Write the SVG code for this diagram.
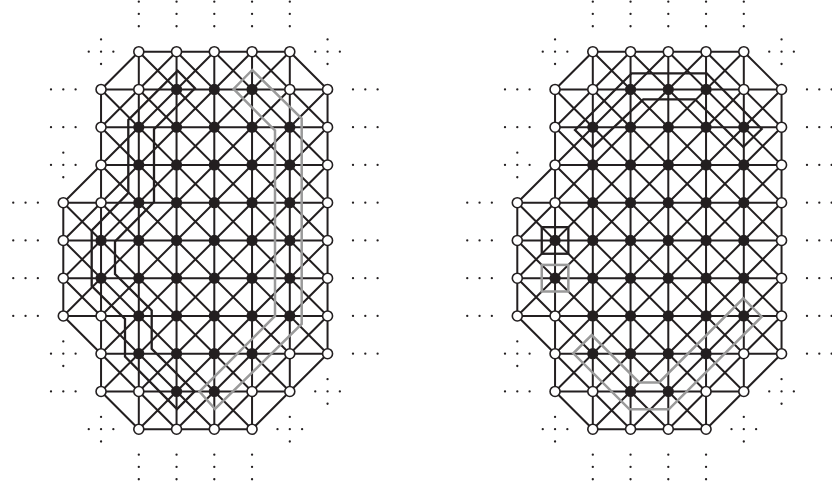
<svg xmlns="http://www.w3.org/2000/svg" xmlns:xlink="http://www.w3.org/1999/xlink" width="832" height="490" viewBox="0 0 832 490">
<style>
.e{fill:none;stroke:#231f20;stroke-width:2}
.o{fill:#fff;stroke:#231f20;stroke-width:1.6}
.f{fill:#231f20}
.hk{fill:none;stroke:#231f20;stroke-width:2.3}
.hg{fill:none;stroke:#9a9a9a;stroke-width:2.5}
.dots{fill:#231f20}
</style>
<defs>
<path id="lattice" d="M75.5 0H226.5M37.75 37.75H264.25M37.75 75.5H264.25M37.75 113.25H264.25M0 151H264.25M0 188.75H264.25M0 226.5H264.25M0 264.25H264.25M37.75 302H264.25M37.75 339.75H226.5M75.5 377.5H188.75M0 151V264.25M37.75 37.75V339.75M75.5 0V377.5M113.25 0V377.5M151 0V377.5M188.75 0V377.5M226.5 0V339.75M264.25 37.75V302M226.5 0L264.25 37.75M188.75 0L264.25 75.5M151 0L264.25 113.25M113.25 0L264.25 151M75.5 0L264.25 188.75M75.5 37.75L264.25 226.5M37.75 37.75L264.25 264.25M37.75 75.5L264.25 302M37.75 113.25L226.5 302M37.75 151L226.5 339.75M0 151L188.75 339.75M0 188.75L188.75 377.5M0 226.5L151 377.5M0 264.25L113.25 377.5M37.75 339.75L75.5 377.5M75.5 0L37.75 37.75M113.25 0L37.75 75.5M151 0L0 151M188.75 0L0 188.75M226.5 0L0 226.5M226.5 37.75L0 264.25M264.25 37.75L37.75 264.25M264.25 75.5L37.75 302M264.25 113.25L37.75 339.75M264.25 151L75.5 339.75M264.25 188.75L75.5 377.5M264.25 226.5L113.25 377.5M264.25 264.25L151 377.5M264.25 302L188.75 377.5"/>
<g id="vt"><circle cy="-12.3" r="1.15"/><circle r="1.15"/><circle cy="12.3" r="1.15"/></g>
<g id="hz"><circle cx="-12.3" r="1.15"/><circle r="1.15"/><circle cx="12.3" r="1.15"/></g>
<g id="pl"><circle cy="-12.3" r="1.15"/><circle cx="-12.3" r="1.15"/><circle r="1.15"/><circle cx="12.3" r="1.15"/><circle cy="12.3" r="1.15"/></g>
<g id="dotset">
<use href="#vt" x="75.5" y="-37.75"/><use href="#vt" x="113.25" y="-37.75"/><use href="#vt" x="151" y="-37.75"/><use href="#vt" x="188.75" y="-37.75"/><use href="#vt" x="226.5" y="-37.75"/>
<use href="#vt" x="75.5" y="415.25"/><use href="#vt" x="113.25" y="415.25"/><use href="#vt" x="151" y="415.25"/><use href="#vt" x="188.75" y="415.25"/>
<use href="#pl" x="37.75" y="0"/><use href="#pl" x="264.25" y="0"/><use href="#pl" x="0" y="113.25"/><use href="#pl" x="0" y="302"/><use href="#pl" x="37.75" y="377.5"/><use href="#pl" x="226.5" y="377.5"/><use href="#pl" x="264.25" y="339.75"/>
<use href="#hz" x="0" y="37.75"/><use href="#hz" x="0" y="75.5"/><use href="#hz" x="0" y="339.75"/>
<use href="#hz" x="-37.75" y="151"/><use href="#hz" x="-37.75" y="188.75"/><use href="#hz" x="-37.75" y="226.5"/><use href="#hz" x="-37.75" y="264.25"/>
<use href="#hz" x="302" y="37.75"/><use href="#hz" x="302" y="75.5"/><use href="#hz" x="302" y="113.25"/><use href="#hz" x="302" y="151"/><use href="#hz" x="302" y="188.75"/><use href="#hz" x="302" y="226.5"/><use href="#hz" x="302" y="264.25"/><use href="#hz" x="302" y="302"/>
</g>
</defs>
<rect width="832" height="490" fill="#fff"/>
<g id="connectors">
<g transform="translate(63.3 51.7)"><use href="#lattice" class="e"/></g>
<g transform="translate(517.3 51.7)"><use href="#lattice" class="e"/></g>
</g>
<g id="overlays">
<polygon id="a-black-band" class="hk" points="177.7,70.7 195,88.3 154,129.3 154,202 115,241.5 115,274 151.7,310.5 151.7,348.7 194.5,391.5 177,409 125,356.5 125,319 91.7,286 91.7,230.5 128.3,193 128.3,120"/>
<polygon id="a-gray-band" class="hg" points="252.2,70 233.6,89 275,130.4 275,316 199.5,391.5 215,409 301.7,324 301.7,118.5"/>
<polygon id="b-black-band" class="hk" points="575,130 631.7,73.3 706.7,73.3 761.7,129 743.3,147 695,99.3 643.3,99.3 592.7,147.3"/>
<polygon id="b-gray-band" class="hg" points="743.3,298.3 761.7,316.7 668.8,409.3 629.5,409.3 573.3,353.3 591.7,335 639.2,382.5 659.1,382.5"/>
<rect id="b-black-square" class="hk" x="541.75" y="227.15" width="26.6" height="26.6"/>
<rect id="b-gray-square" class="hg" x="541.75" y="264.9" width="26.6" height="26.6"/>
</g>
<g id="dots" class="dots">
<use href="#dotset" transform="translate(63.3 51.7)"/>
<use href="#dotset" transform="translate(517.3 51.7)"/>
</g>
<g id="nodes-a" transform="translate(63.3 51.7)">
<g id="a-r0c2"><circle class="o" cx="75.5" cy="0" r="5"/></g>
<g id="a-r0c3"><circle class="o" cx="113.25" cy="0" r="5"/></g>
<g id="a-r0c4"><circle class="o" cx="151" cy="0" r="5"/></g>
<g id="a-r0c5"><circle class="o" cx="188.75" cy="0" r="5"/></g>
<g id="a-r0c6"><circle class="o" cx="226.5" cy="0" r="5"/></g>
<g id="a-r1c1"><circle class="o" cx="37.75" cy="37.75" r="5"/></g>
<g id="a-r1c2"><circle class="o" cx="75.5" cy="37.75" r="5"/></g>
<g id="a-r1c3"><circle class="f" cx="113.25" cy="37.75" r="5.6"/></g>
<g id="a-r1c4"><circle class="f" cx="151" cy="37.75" r="5.6"/></g>
<g id="a-r1c5"><circle class="f" cx="188.75" cy="37.75" r="5.6"/></g>
<g id="a-r1c6"><circle class="o" cx="226.5" cy="37.75" r="5"/></g>
<g id="a-r1c7"><circle class="o" cx="264.25" cy="37.75" r="5"/></g>
<g id="a-r2c1"><circle class="o" cx="37.75" cy="75.5" r="5"/></g>
<g id="a-r2c2"><circle class="f" cx="75.5" cy="75.5" r="5.6"/></g>
<g id="a-r2c3"><circle class="f" cx="113.25" cy="75.5" r="5.6"/></g>
<g id="a-r2c4"><circle class="f" cx="151" cy="75.5" r="5.6"/></g>
<g id="a-r2c5"><circle class="f" cx="188.75" cy="75.5" r="5.6"/></g>
<g id="a-r2c6"><circle class="f" cx="226.5" cy="75.5" r="5.6"/></g>
<g id="a-r2c7"><circle class="o" cx="264.25" cy="75.5" r="5"/></g>
<g id="a-r3c1"><circle class="o" cx="37.75" cy="113.25" r="5"/></g>
<g id="a-r3c2"><circle class="f" cx="75.5" cy="113.25" r="5.6"/></g>
<g id="a-r3c3"><circle class="f" cx="113.25" cy="113.25" r="5.6"/></g>
<g id="a-r3c4"><circle class="f" cx="151" cy="113.25" r="5.6"/></g>
<g id="a-r3c5"><circle class="f" cx="188.75" cy="113.25" r="5.6"/></g>
<g id="a-r3c6"><circle class="f" cx="226.5" cy="113.25" r="5.6"/></g>
<g id="a-r3c7"><circle class="o" cx="264.25" cy="113.25" r="5"/></g>
<g id="a-r4c0"><circle class="o" cx="0" cy="151" r="5"/></g>
<g id="a-r4c1"><circle class="o" cx="37.75" cy="151" r="5"/></g>
<g id="a-r4c2"><circle class="f" cx="75.5" cy="151" r="5.6"/></g>
<g id="a-r4c3"><circle class="f" cx="113.25" cy="151" r="5.6"/></g>
<g id="a-r4c4"><circle class="f" cx="151" cy="151" r="5.6"/></g>
<g id="a-r4c5"><circle class="f" cx="188.75" cy="151" r="5.6"/></g>
<g id="a-r4c6"><circle class="f" cx="226.5" cy="151" r="5.6"/></g>
<g id="a-r4c7"><circle class="o" cx="264.25" cy="151" r="5"/></g>
<g id="a-r5c0"><circle class="o" cx="0" cy="188.75" r="5"/></g>
<g id="a-r5c1"><circle class="f" cx="37.75" cy="188.75" r="5.6"/></g>
<g id="a-r5c2"><circle class="f" cx="75.5" cy="188.75" r="5.6"/></g>
<g id="a-r5c3"><circle class="f" cx="113.25" cy="188.75" r="5.6"/></g>
<g id="a-r5c4"><circle class="f" cx="151" cy="188.75" r="5.6"/></g>
<g id="a-r5c5"><circle class="f" cx="188.75" cy="188.75" r="5.6"/></g>
<g id="a-r5c6"><circle class="f" cx="226.5" cy="188.75" r="5.6"/></g>
<g id="a-r5c7"><circle class="o" cx="264.25" cy="188.75" r="5"/></g>
<g id="a-r6c0"><circle class="o" cx="0" cy="226.5" r="5"/></g>
<g id="a-r6c1"><circle class="f" cx="37.75" cy="226.5" r="5.6"/></g>
<g id="a-r6c2"><circle class="f" cx="75.5" cy="226.5" r="5.6"/></g>
<g id="a-r6c3"><circle class="f" cx="113.25" cy="226.5" r="5.6"/></g>
<g id="a-r6c4"><circle class="f" cx="151" cy="226.5" r="5.6"/></g>
<g id="a-r6c5"><circle class="f" cx="188.75" cy="226.5" r="5.6"/></g>
<g id="a-r6c6"><circle class="f" cx="226.5" cy="226.5" r="5.6"/></g>
<g id="a-r6c7"><circle class="o" cx="264.25" cy="226.5" r="5"/></g>
<g id="a-r7c0"><circle class="o" cx="0" cy="264.25" r="5"/></g>
<g id="a-r7c1"><circle class="o" cx="37.75" cy="264.25" r="5"/></g>
<g id="a-r7c2"><circle class="f" cx="75.5" cy="264.25" r="5.6"/></g>
<g id="a-r7c3"><circle class="f" cx="113.25" cy="264.25" r="5.6"/></g>
<g id="a-r7c4"><circle class="f" cx="151" cy="264.25" r="5.6"/></g>
<g id="a-r7c5"><circle class="f" cx="188.75" cy="264.25" r="5.6"/></g>
<g id="a-r7c6"><circle class="f" cx="226.5" cy="264.25" r="5.6"/></g>
<g id="a-r7c7"><circle class="o" cx="264.25" cy="264.25" r="5"/></g>
<g id="a-r8c1"><circle class="o" cx="37.75" cy="302" r="5"/></g>
<g id="a-r8c2"><circle class="f" cx="75.5" cy="302" r="5.6"/></g>
<g id="a-r8c3"><circle class="f" cx="113.25" cy="302" r="5.6"/></g>
<g id="a-r8c4"><circle class="f" cx="151" cy="302" r="5.6"/></g>
<g id="a-r8c5"><circle class="f" cx="188.75" cy="302" r="5.6"/></g>
<g id="a-r8c6"><circle class="o" cx="226.5" cy="302" r="5"/></g>
<g id="a-r8c7"><circle class="o" cx="264.25" cy="302" r="5"/></g>
<g id="a-r9c1"><circle class="o" cx="37.75" cy="339.75" r="5"/></g>
<g id="a-r9c2"><circle class="o" cx="75.5" cy="339.75" r="5"/></g>
<g id="a-r9c3"><circle class="f" cx="113.25" cy="339.75" r="5.6"/></g>
<g id="a-r9c4"><circle class="f" cx="151" cy="339.75" r="5.6"/></g>
<g id="a-r9c5"><circle class="o" cx="188.75" cy="339.75" r="5"/></g>
<g id="a-r9c6"><circle class="o" cx="226.5" cy="339.75" r="5"/></g>
<g id="a-r10c2"><circle class="o" cx="75.5" cy="377.5" r="5"/></g>
<g id="a-r10c3"><circle class="o" cx="113.25" cy="377.5" r="5"/></g>
<g id="a-r10c4"><circle class="o" cx="151" cy="377.5" r="5"/></g>
<g id="a-r10c5"><circle class="o" cx="188.75" cy="377.5" r="5"/></g>
</g>
<g id="nodes-b" transform="translate(517.3 51.7)">
<g id="b-r0c2"><circle class="o" cx="75.5" cy="0" r="5"/></g>
<g id="b-r0c3"><circle class="o" cx="113.25" cy="0" r="5"/></g>
<g id="b-r0c4"><circle class="o" cx="151" cy="0" r="5"/></g>
<g id="b-r0c5"><circle class="o" cx="188.75" cy="0" r="5"/></g>
<g id="b-r0c6"><circle class="o" cx="226.5" cy="0" r="5"/></g>
<g id="b-r1c1"><circle class="o" cx="37.75" cy="37.75" r="5"/></g>
<g id="b-r1c2"><circle class="o" cx="75.5" cy="37.75" r="5"/></g>
<g id="b-r1c3"><circle class="f" cx="113.25" cy="37.75" r="5.6"/></g>
<g id="b-r1c4"><circle class="f" cx="151" cy="37.75" r="5.6"/></g>
<g id="b-r1c5"><circle class="f" cx="188.75" cy="37.75" r="5.6"/></g>
<g id="b-r1c6"><circle class="o" cx="226.5" cy="37.75" r="5"/></g>
<g id="b-r1c7"><circle class="o" cx="264.25" cy="37.75" r="5"/></g>
<g id="b-r2c1"><circle class="o" cx="37.75" cy="75.5" r="5"/></g>
<g id="b-r2c2"><circle class="f" cx="75.5" cy="75.5" r="5.6"/></g>
<g id="b-r2c3"><circle class="f" cx="113.25" cy="75.5" r="5.6"/></g>
<g id="b-r2c4"><circle class="f" cx="151" cy="75.5" r="5.6"/></g>
<g id="b-r2c5"><circle class="f" cx="188.75" cy="75.5" r="5.6"/></g>
<g id="b-r2c6"><circle class="f" cx="226.5" cy="75.5" r="5.6"/></g>
<g id="b-r2c7"><circle class="o" cx="264.25" cy="75.5" r="5"/></g>
<g id="b-r3c1"><circle class="o" cx="37.75" cy="113.25" r="5"/></g>
<g id="b-r3c2"><circle class="f" cx="75.5" cy="113.25" r="5.6"/></g>
<g id="b-r3c3"><circle class="f" cx="113.25" cy="113.25" r="5.6"/></g>
<g id="b-r3c4"><circle class="f" cx="151" cy="113.25" r="5.6"/></g>
<g id="b-r3c5"><circle class="f" cx="188.75" cy="113.25" r="5.6"/></g>
<g id="b-r3c6"><circle class="f" cx="226.5" cy="113.25" r="5.6"/></g>
<g id="b-r3c7"><circle class="o" cx="264.25" cy="113.25" r="5"/></g>
<g id="b-r4c0"><circle class="o" cx="0" cy="151" r="5"/></g>
<g id="b-r4c1"><circle class="o" cx="37.75" cy="151" r="5"/></g>
<g id="b-r4c2"><circle class="f" cx="75.5" cy="151" r="5.6"/></g>
<g id="b-r4c3"><circle class="f" cx="113.25" cy="151" r="5.6"/></g>
<g id="b-r4c4"><circle class="f" cx="151" cy="151" r="5.6"/></g>
<g id="b-r4c5"><circle class="f" cx="188.75" cy="151" r="5.6"/></g>
<g id="b-r4c6"><circle class="f" cx="226.5" cy="151" r="5.6"/></g>
<g id="b-r4c7"><circle class="o" cx="264.25" cy="151" r="5"/></g>
<g id="b-r5c0"><circle class="o" cx="0" cy="188.75" r="5"/></g>
<g id="b-r5c1"><circle class="f" cx="37.75" cy="188.75" r="5.6"/></g>
<g id="b-r5c2"><circle class="f" cx="75.5" cy="188.75" r="5.6"/></g>
<g id="b-r5c3"><circle class="f" cx="113.25" cy="188.75" r="5.6"/></g>
<g id="b-r5c4"><circle class="f" cx="151" cy="188.75" r="5.6"/></g>
<g id="b-r5c5"><circle class="f" cx="188.75" cy="188.75" r="5.6"/></g>
<g id="b-r5c6"><circle class="f" cx="226.5" cy="188.75" r="5.6"/></g>
<g id="b-r5c7"><circle class="o" cx="264.25" cy="188.75" r="5"/></g>
<g id="b-r6c0"><circle class="o" cx="0" cy="226.5" r="5"/></g>
<g id="b-r6c1"><circle class="f" cx="37.75" cy="226.5" r="5.6"/></g>
<g id="b-r6c2"><circle class="f" cx="75.5" cy="226.5" r="5.6"/></g>
<g id="b-r6c3"><circle class="f" cx="113.25" cy="226.5" r="5.6"/></g>
<g id="b-r6c4"><circle class="f" cx="151" cy="226.5" r="5.6"/></g>
<g id="b-r6c5"><circle class="f" cx="188.75" cy="226.5" r="5.6"/></g>
<g id="b-r6c6"><circle class="f" cx="226.5" cy="226.5" r="5.6"/></g>
<g id="b-r6c7"><circle class="o" cx="264.25" cy="226.5" r="5"/></g>
<g id="b-r7c0"><circle class="o" cx="0" cy="264.25" r="5"/></g>
<g id="b-r7c1"><circle class="o" cx="37.75" cy="264.25" r="5"/></g>
<g id="b-r7c2"><circle class="f" cx="75.5" cy="264.25" r="5.6"/></g>
<g id="b-r7c3"><circle class="f" cx="113.25" cy="264.25" r="5.6"/></g>
<g id="b-r7c4"><circle class="f" cx="151" cy="264.25" r="5.6"/></g>
<g id="b-r7c5"><circle class="f" cx="188.75" cy="264.25" r="5.6"/></g>
<g id="b-r7c6"><circle class="f" cx="226.5" cy="264.25" r="5.6"/></g>
<g id="b-r7c7"><circle class="o" cx="264.25" cy="264.25" r="5"/></g>
<g id="b-r8c1"><circle class="o" cx="37.75" cy="302" r="5"/></g>
<g id="b-r8c2"><circle class="f" cx="75.5" cy="302" r="5.6"/></g>
<g id="b-r8c3"><circle class="f" cx="113.25" cy="302" r="5.6"/></g>
<g id="b-r8c4"><circle class="f" cx="151" cy="302" r="5.6"/></g>
<g id="b-r8c5"><circle class="f" cx="188.75" cy="302" r="5.6"/></g>
<g id="b-r8c6"><circle class="o" cx="226.5" cy="302" r="5"/></g>
<g id="b-r8c7"><circle class="o" cx="264.25" cy="302" r="5"/></g>
<g id="b-r9c1"><circle class="o" cx="37.75" cy="339.75" r="5"/></g>
<g id="b-r9c2"><circle class="o" cx="75.5" cy="339.75" r="5"/></g>
<g id="b-r9c3"><circle class="f" cx="113.25" cy="339.75" r="5.6"/></g>
<g id="b-r9c4"><circle class="f" cx="151" cy="339.75" r="5.6"/></g>
<g id="b-r9c5"><circle class="o" cx="188.75" cy="339.75" r="5"/></g>
<g id="b-r9c6"><circle class="o" cx="226.5" cy="339.75" r="5"/></g>
<g id="b-r10c2"><circle class="o" cx="75.5" cy="377.5" r="5"/></g>
<g id="b-r10c3"><circle class="o" cx="113.25" cy="377.5" r="5"/></g>
<g id="b-r10c4"><circle class="o" cx="151" cy="377.5" r="5"/></g>
<g id="b-r10c5"><circle class="o" cx="188.75" cy="377.5" r="5"/></g>
</g>
</svg>
